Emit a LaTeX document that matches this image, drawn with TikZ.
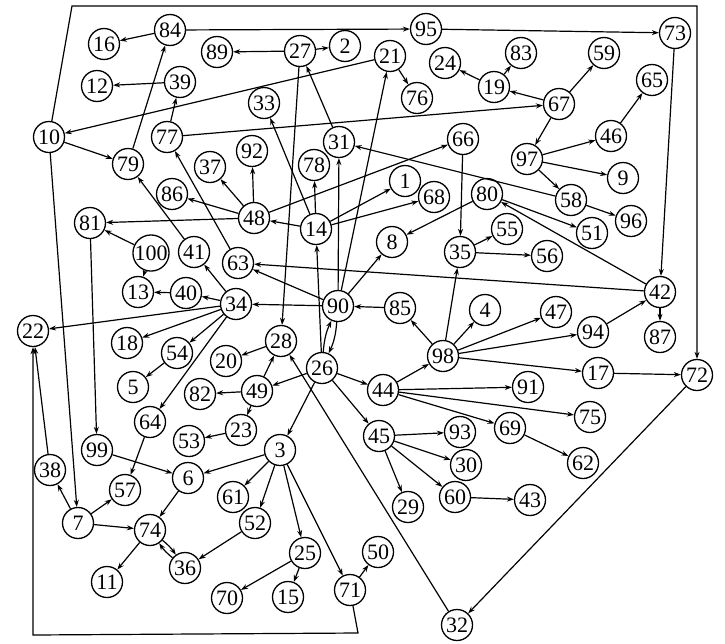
\documentclass[tikz,border=0pt]{standalone}
\usepackage{fontspec}
\setmainfont{Liberation Serif}
\usetikzlibrary{arrows.meta}

\begin{document}
\begin{tikzpicture}[
  x=1pt, y=-1pt,
  vtx/.style={
    circle, draw, line width=1.3pt,
    minimum size=31pt, inner sep=0pt,
    font=\fontsize{22}{22}\selectfont},
  arr/.style={-{Stealth[length=7pt,width=5pt]}, line width=1.2pt},
]
  \useasboundingbox (0,0) rectangle (725,643);

  % ── Vertices, top rows ──────────────────────────────────────────────────
  \node[vtx] (v16) at (104,44) {16};
  \node[vtx] (v84) at (170,30) {84};
  \node[vtx] (v89) at (217,52) {89};
  \node[vtx] (v27) at (300,51) {27};
  \node[vtx] (v2)  at (345,46) {2};
  \node[vtx] (v95) at (426,29) {95};
  \node[vtx] (v73) at (675,33) {73};
  \node[vtx] (v21) at (390,56) {21};
  \node[vtx] (v24) at (445,63) {24};
  \node[vtx] (v83) at (521,53) {83};
  \node[vtx] (v19) at (494,87) {19};
  \node[vtx] (v59) at (604,53) {59};
  \node[vtx] (v76) at (417,98) {76};
  \node[vtx] (v67) at (559,104) {67};
  \node[vtx] (v65) at (652,80) {65};
  \node[vtx] (v12) at (97,86) {12};
  \node[vtx] (v39) at (180,82) {39};
  \node[vtx] (v10) at (49,137) {10};
  \node[vtx] (v33) at (264,103) {33};
  \node[vtx] (v77) at (167,137) {77};
  \node[vtx] (v79) at (128,164) {79};
  \node[vtx] (v31) at (339,142) {31};
  \node[vtx] (v92) at (252,151) {92};
  \node[vtx] (v37) at (210,167) {37};
  \node[vtx] (v78) at (314,165) {78};
  \node[vtx] (v66) at (463,139) {66};
  \node[vtx] (v46) at (611,136) {46};
  \node[vtx] (v97) at (527,159) {97};
  \node[vtx] (v9)  at (623,178) {9};

  % ── Vertices, middle rows ───────────────────────────────────────────────
  \node[vtx] (v86)  at (172,194) {86};
  \node[vtx] (v48)  at (254,218) {48};
  \node[vtx] (v14)  at (316,229) {14};
  \node[vtx] (v1)   at (405,181) {1};
  \node[vtx] (v68)  at (434,197) {68};
  \node[vtx] (v80)  at (487,194) {80};
  \node[vtx] (v58)  at (571,200) {58};
  \node[vtx] (v96)  at (631,221) {96};
  \node[vtx] (v51)  at (592,233) {51};
  \node[vtx] (v81)  at (90,223) {81};
  \node[vtx] (v100) at (151,253) {100};
  \node[vtx] (v41)  at (194,252) {41};
  \node[vtx] (v63)  at (238,263) {63};
  \node[vtx] (v8)   at (392,242) {8};
  \node[vtx] (v35)  at (460,252) {35};
  \node[vtx] (v55)  at (507,229) {55};
  \node[vtx] (v56)  at (547,256) {56};
  \node[vtx] (v42)  at (660,292) {42};
  \node[vtx] (v87)  at (660,337) {87};
  \node[vtx] (v13)  at (138,292) {13};
  \node[vtx] (v40)  at (186,293) {40};
  \node[vtx] (v34)  at (236,304) {34};
  \node[vtx] (v90)  at (338,306) {90};
  \node[vtx] (v85)  at (400,308) {85};
  \node[vtx] (v4)   at (485,310) {4};
  \node[vtx] (v47)  at (556,312) {47};
  \node[vtx] (v94)  at (593,332) {94};
  \node[vtx] (v22)  at (33,331) {22};
  \node[vtx] (v18)  at (127,343) {18};
  \node[vtx] (v54)  at (177,353) {54};
  \node[vtx] (v98)  at (443,356) {98};
  \node[vtx] (v28)  at (281,341) {28};
  \node[vtx] (v20)  at (226,361) {20};
  \node[vtx] (v26)  at (322,368) {26};
  \node[vtx] (v44)  at (383,390) {44};
  \node[vtx] (v17)  at (598,373) {17};
  \node[vtx] (v72)  at (697,375) {72};

  % ── Vertices, bottom rows ───────────────────────────────────────────────
  \node[vtx] (v5)  at (133,387) {5};
  \node[vtx] (v82) at (200,394) {82};
  \node[vtx] (v49) at (257,391) {49};
  \node[vtx] (v91) at (528,387) {91};
  \node[vtx] (v75) at (590,417) {75};
  \node[vtx] (v64) at (150,422) {64};
  \node[vtx] (v23) at (241,430) {23};
  \node[vtx] (v53) at (189,441) {53};
  \node[vtx] (v45) at (379,436) {45};
  \node[vtx] (v93) at (460,432) {93};
  \node[vtx] (v69) at (510,428) {69};
  \node[vtx] (v3)  at (280,450) {3};
  \node[vtx] (v99) at (97,450) {99};
  \node[vtx] (v30) at (466,465) {30};
  \node[vtx] (v62) at (583,463) {62};
  \node[vtx] (v38) at (50,470) {38};
  \node[vtx] (v6)  at (188,478) {6};
  \node[vtx] (v57) at (125,490) {57};
  \node[vtx] (v61) at (233,497) {61};
  \node[vtx] (v52) at (255,523) {52};
  \node[vtx] (v60) at (455,497) {60};
  \node[vtx] (v43) at (530,500) {43};
  \node[vtx] (v29) at (408,507) {29};
  \node[vtx] (v7)  at (78,523) {7};
  \node[vtx] (v74) at (150,530) {74};
  \node[vtx] (v36) at (185,568) {36};
  \node[vtx] (v25) at (305,553) {25};
  \node[vtx] (v50) at (378,552) {50};
  \node[vtx] (v11) at (107,582) {11};
  \node[vtx] (v70) at (227,598) {70};
  \node[vtx] (v15) at (288,597) {15};
  \node[vtx] (v71) at (350,590) {71};
  \node[vtx] (v32) at (457,625) {32};

  % ── Top area arrows ─────────────────────────────────────────────────────
  \draw[arr] (v84) -- (v16);  \draw[arr] (v84) -- (v95);
  \draw[arr] (v79) -- (v84);  \draw[arr] (v39) -- (v12);
  \draw[arr] (v77) -- (v39);  \draw[arr] (v77) -- (v67);
  \draw[arr] (v21) -- (v10);  \draw[arr] (v27) -- (v89);
  \draw[arr] (v27) -- (v2);   \draw[arr] (v21) -- (v76);
  \draw[arr] (v31) -- (v27);  \draw[arr] (v27) -- (v28);
  \draw[arr] (v10) -- (v79);  \draw[arr] (v95) -- (v73);
  \draw[arr] (v67) -- (v19);  \draw[arr] (v19) -- (v83);
  \draw[arr] (v19) -- (v24);  \draw[arr] (v67) -- (v59);
  \draw[arr] (v67) -- (v97);  \draw[arr] (v46) -- (v65);
  \draw[arr] (v97) -- (v46);  \draw[arr] (v97) -- (v9);
  \draw[arr] (v97) -- (v58);  \draw[arr] (v58) -- (v96);
  \draw[arr] (v58) -- (v31);  \draw[arr] (v73) -- (v42);

  % ── Around 48, 14 and 90 ────────────────────────────────────────────────
  \draw[arr] (v48) -- (v92);  \draw[arr] (v48) -- (v37);
  \draw[arr] (v48) -- (v86);  \draw[arr] (v48) -- (v66);
  \draw[arr] (v48) -- (v81);  \draw[arr] (v63) -- (v77);
  \draw[arr] (v41) -- (v79);  \draw[arr] (v14) -- (v33);
  \draw[arr] (v14) -- (v78);  \draw[arr] (v14) -- (v1);
  \draw[arr] (v14) -- (v68);  \draw[arr] (v14) -- (v48);
  \draw[arr] (v90) -- (v21);  \draw[arr] (v90) -- (v31);
  \draw[arr] (v90) -- (v34);  \draw[arr] (v90) -- (v63);
  \draw[arr] (v90) -- (v8);   \draw[arr] (v85) -- (v90);
  \draw[arr] (v26) -- (v14);
  \draw[arr] (v26) to[bend left=10] (v90);
  \draw[arr] (v90) to[bend left=10] (v26);

  % ── Right-hand cluster ──────────────────────────────────────────────────
  \draw[arr] (v42) -- (v80);  \draw[arr] (v80) -- (v51);
  \draw[arr] (v80) -- (v8);   \draw[arr] (v66) -- (v35);
  \draw[arr] (v35) -- (v55);  \draw[arr] (v35) -- (v56);
  \draw[arr] (v98) -- (v35);  \draw[arr] (v42) -- (v63);
  \draw[arr] (v42) -- (v87);  \draw[arr] (v94) -- (v42);
  \draw[arr] (v98) -- (v47);  \draw[arr] (v98) -- (v94);
  \draw[arr] (v98) -- (v4);   \draw[arr] (v98) -- (v17);
  \draw[arr] (v17) -- (v72);  \draw[arr] (v98) -- (v85);
  \draw[arr] (v44) -- (v98);  \draw[arr] (v44) -- (v91);
  \draw[arr] (v44) -- (v75);  \draw[arr] (v44) -- (v69);
  \draw[arr] (v69) -- (v62);  \draw[arr] (v26) -- (v44);
  \draw[arr] (v26) -- (v45);  \draw[arr] (v45) -- (v93);
  \draw[arr] (v45) -- (v30);  \draw[arr] (v45) -- (v60);
  \draw[arr] (v45) -- (v29);  \draw[arr] (v60) -- (v43);
  \draw[arr] (v72) -- (v32);  \draw[arr] (v32) -- (v28);

  % ── Left-hand cluster ───────────────────────────────────────────────────
  \draw[arr] (v100) -- (v81); \draw[arr] (v100) -- (v13);
  \draw[arr] (v40) -- (v13);  \draw[arr] (v34) -- (v40);
  \draw[arr] (v34) -- (v41);  \draw[arr] (v34) -- (v22);
  \draw[arr] (v34) -- (v18);  \draw[arr] (v34) -- (v54);
  \draw[arr] (v54) -- (v5);   \draw[arr] (v34) -- (v64);
  \draw[arr] (v64) -- (v57);  \draw[arr] (v81) -- (v99);
  \draw[arr] (v99) -- (v6);   \draw[arr] (v10) -- (v7);
  \draw[arr] (v7) -- (v57);   \draw[arr] (v7) -- (v38);
  \draw[arr] (v38) -- (v22);  \draw[arr] (v7) -- (v74);
  \draw[arr] (v6) -- (v74);   \draw[arr] (v74) -- (v11);
  \draw[arr] (v74) to[bend left=8] (v36);
  \draw[arr] (v36) to[bend left=8] (v74);

  % ── Below 26 ────────────────────────────────────────────────────────────
  \draw[arr] (v26) -- (v3);   \draw[arr] (v26) -- (v49);
  \draw[arr] (v28) -- (v20);  \draw[arr] (v49) -- (v28);
  \draw[arr] (v49) -- (v82);  \draw[arr] (v49) -- (v23);
  \draw[arr] (v23) -- (v53);  \draw[arr] (v3) -- (v6);
  \draw[arr] (v3) -- (v61);   \draw[arr] (v3) -- (v52);
  \draw[arr] (v52) -- (v36);  \draw[arr] (v3) -- (v25);
  \draw[arr] (v3) -- (v71);   \draw[arr] (v71) -- (v50);
  \draw[arr] (v25) -- (v70);  \draw[arr] (v25) -- (v15);

  % ── Frame edges round the outside ───────────────────────────────────────
  \coordinate (topL) at (72,6);
  \coordinate (topR) at (697,6);
  \draw[arr] (v10) -- (topL) -- (topR) -- (v72);
  \coordinate (botR) at (358,633);
  \coordinate (botL) at (33,635);
  \draw[arr] (v71) -- (botR) -- (botL) -- (v22);

\end{tikzpicture}
\end{document}
